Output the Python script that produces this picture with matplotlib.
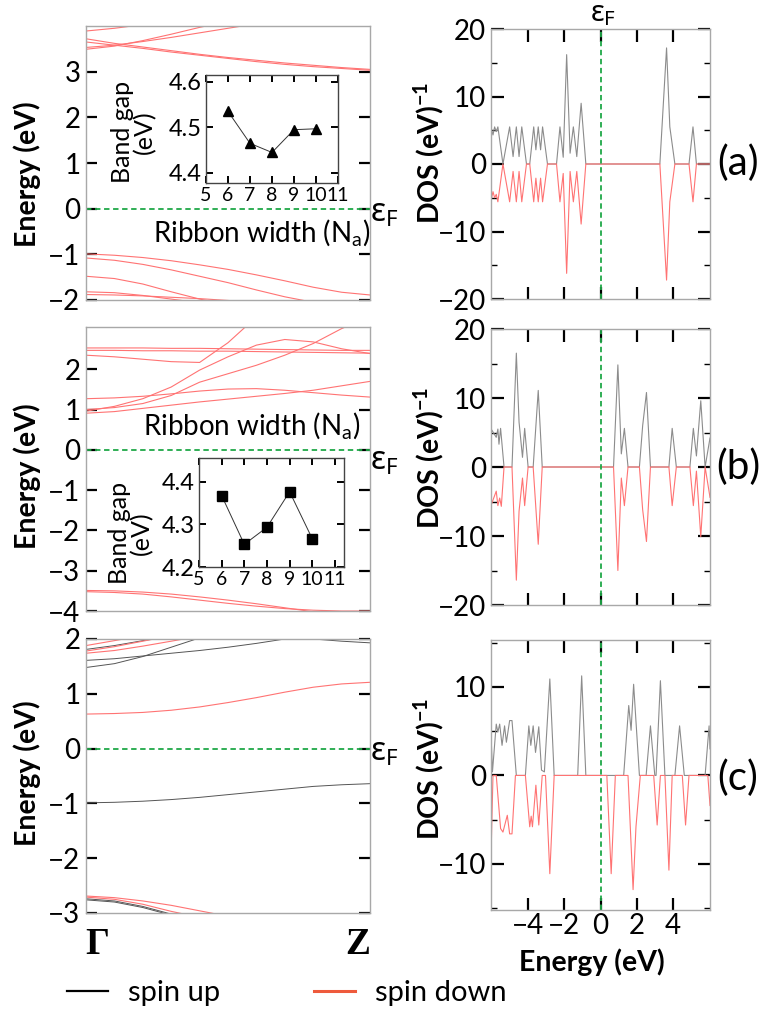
import matplotlib
matplotlib.use('Agg')
import matplotlib.pyplot as plt
from matplotlib.lines import Line2D

plt.rcParams['font.family'] = ['Lato', 'DejaVu Sans']
plt.rcParams['mathtext.fontset'] = 'dejavusans'

W, H = 768, 1011

# k path Gamma -> Z, sampled points
K_PTS = [0.0, 0.1, 0.2, 0.3, 0.4, 0.5, 0.6, 0.7, 0.8, 0.9, 1.0]

# (a) bands, spin degenerate (drawn red)
BANDS_A = [
    [3.72, 3.62, 3.54, 3.46, 3.38, 3.31, 3.25, 3.19, 3.14, 3.09, 3.05],
    [3.65, 3.58, 3.51, 3.43, 3.36, 3.29, 3.22, 3.16, 3.11, 3.07, 3.03],
    [3.53, 3.58, 3.66, 3.75, 3.85, 3.95, 4.05],
    [3.49, 3.56, 3.68, 3.82, 3.97, 4.10],
    [3.89, 3.95, 4.03, 4.10],
    [-0.99, -1.02, -1.07, -1.14, -1.23, -1.33, -1.45, -1.58, -1.72, -1.83, -1.89],
    [-1.08, -1.13, -1.22, -1.34, -1.48, -1.62, -1.78, -1.93, -2.05],
    [-1.48, -1.53, -1.65, -1.82, -1.98, -2.10],
    [-1.82, -1.84, -1.90, -1.98, -2.06],
    [-1.88, -1.89, -1.91, -1.94, -1.97, -2.01, -2.05],
]

# (b) bands
BANDS_B = [
    [2.53, 2.53, 2.53, 2.52, 2.52, 2.51, 2.50, 2.49, 2.48, 2.47, 2.47],
    [2.47, 2.47, 2.46, 2.46, 2.45, 2.45, 2.44, 2.43, 2.42, 2.41, 2.40],
    [2.35, 2.31, 2.25, 2.19, 2.17, 2.66, 3.30],
    [0.96, 1.08, 1.27, 1.56, 1.98, 2.31, 2.60, 2.74, 2.68, 2.51, 2.39],
    [1.00, 1.05, 1.15, 1.35, 1.68, 1.89, 2.10, 2.35, 2.64, 3.01, 3.30],
    [0.91, 0.95, 1.03, 1.11, 1.19, 1.26, 1.33, 1.40, 1.48, 1.59, 1.70],
    [1.27, 1.29, 1.33, 1.39, 1.46, 1.51, 1.52, 1.48, 1.42, 1.36, 1.31],
    [-3.49, -3.50, -3.53, -3.58, -3.65, -3.73, -3.82, -3.92, -4.02],
    [-3.52, -3.54, -3.58, -3.65, -3.73, -3.81, -3.88, -3.94, -3.98, -4.00, -4.00],
]

# (c) bands, spin polarised
BANDS_C_UP = [
    [-0.99, -0.98, -0.96, -0.93, -0.89, -0.84, -0.79, -0.74, -0.69, -0.66, -0.64],
    [1.48, 1.55, 1.68, 1.85, 2.02],
    [1.61, 1.64, 1.69, 1.74, 1.79, 1.85, 1.92, 2.00, 2.05],
    [1.81, 1.88, 1.97, 2.05],
    [2.40, 2.35, 2.30, 2.25, 2.20, 2.15, 2.10, 2.05, 2.00, 1.96, 1.93],
    [-2.74, -2.78, -2.88, -3.02],
    [-2.76, -2.80, -2.90, -3.04],
]
BANDS_C_DOWN = [
    [0.63, 0.64, 0.66, 0.70, 0.76, 0.84, 0.93, 1.03, 1.12, 1.18, 1.21],
    [1.88, 1.97, 2.06],
    [1.78, 1.86, 1.96, 2.06],
    [1.74, 1.79, 1.87, 1.96, 2.05],
    [-2.69, -2.72, -2.78, -2.86, -2.96, -3.06],
    [-2.71, -2.75, -2.84, -2.97, -3.08],
]

# insets: band gap vs ribbon width
WIDTH_N = [6, 7, 8, 9, 10]
GAP_A = [4.535, 4.465, 4.445, 4.495, 4.497]
GAP_B = [4.367, 4.253, 4.293, 4.376, 4.266]

# DOS curves (energy, states/eV), vertices
E_UP_A = [-6.04, -5.94, -5.85, -5.76, -5.67, -5.39, -5.02, -4.83, -4.65, -4.50, -4.35, -4.09,
          -3.91, -3.69, -3.57, -3.44, -3.31, -3.20, -2.93, -2.43, -2.24, -2.06, -1.87, -1.68,
          -1.50, -1.31, -1.07, -0.81, 3.28, 3.65, 3.83, 4.11, 4.89, 5.11, 5.30, 6.05]
D_UP_A = [5.3, 4.3, 5.5, 4.8, 5.5, 0.0, 5.5, 1.1, 5.5, 1.1, 5.5, 0.0,
          0.0, 5.5, 2.1, 5.5, 2.1, 5.5, 0.0, 0.0, 5.5, 1.0, 16.2, 1.6,
          5.5, 1.1, 9.0, 0.0, 0.0, 17.2, 5.5, 0.0, 0.0, 5.5, 0.0, 0.0]
E_DN_A = E_UP_A
D_DN_A = [-5.3, -4.1, -5.0, -4.5, -5.6, 0.0, -5.6, -1.1, -5.6, -1.1, -5.6, 0.0,
          0.0, -5.6, -2.1, -5.6, -2.1, -5.6, 0.0, 0.0, -5.6, -1.4, -16.2, -1.1,
          -5.6, -1.1, -8.9, 0.0, 0.0, -17.2, -5.6, 0.0, 0.0, -5.6, 0.0, 0.0]

E_UP_B = [-6.04, -5.76, -5.67, -5.61, -5.52, -5.33, -4.89, -4.65, -4.50, -4.31, -4.19, -4.00,
          -3.72, -3.44, -3.22, 0.72, 0.96, 1.15, 1.32, 1.52, 2.15, 2.33, 2.54, 2.76,
          3.78, 3.96, 4.19, 4.94, 5.13, 5.30, 5.54, 5.78, 6.05]
D_UP_B = [5.5, 4.3, 5.5, 3.3, 5.6, 0.0, 0.0, 16.5, 6.5, 1.4, 5.6, 0.0,
          0.0, 11.1, 0.0, 0.0, 14.8, 1.9, 5.6, 0.0, 0.0, 6.0, 10.8, 0.0,
          0.0, 5.6, 0.0, 0.0, 5.6, 1.6, 9.6, 0.0, 4.2]
E_DN_B = [-6.04, -5.76, -5.67, -5.57, -5.48, -5.33, -4.89, -4.65, -4.50, -4.31, -4.19, -4.00,
          -3.72, -3.44, -3.22, 0.72, 0.96, 1.15, 1.32, 1.52, 2.15, 2.33, 2.54, 2.76,
          3.78, 3.96, 4.19, 4.94, 5.13, 5.30, 5.54, 5.78, 6.05]
D_DN_B = [-5.5, -3.5, -5.6, -4.5, -5.7, 0.0, 0.0, -16.4, -6.4, -1.6, -5.6, 0.0,
          0.0, -11.2, 0.0, 0.0, -15.0, -1.6, -5.6, 0.0, 0.0, -6.2, -10.8, 0.0,
          0.0, -5.6, 0.0, 0.0, -5.6, -0.6, -10.1, 0.0, -4.4]

E_UP_C = [-6.05, -5.97, -5.76, -5.67, -5.57, -5.44, -5.30, -5.20, -5.02, -4.89, -4.65,
          -4.15, -3.96, -3.85, -3.72, -3.59, -3.41, -3.26, -3.10, -2.80, -2.56,
          -1.26, -1.04, -0.81, 1.28, 1.56, 1.69, 1.83, 2.15, 2.52, 2.76, 3.00,
          3.07, 3.31, 3.56, 4.11, 4.37, 4.63, 5.78, 6.00, 6.05]
D_UP_C = [4.7, 0.4, 5.8, 4.9, 5.8, 3.4, 5.6, 3.75, 6.2, 6.2, 0.0,
          0.0, 5.6, 3.4, 5.6, 2.6, 5.5, 0.6, 0.4, 10.9, 0.0,
          0.0, 11.25, 0.0, 0.0, 7.9, 5.1, 10.3, 0.0, 0.0, 5.6, 0.0,
          0.0, 10.7, 0.0, 0.0, 5.6, 0.0, 0.0, 5.6, 3.0]
E_DN_C = [-6.05, -5.94, -5.76, -5.52, -5.39, -5.15, -5.02, -4.89, -4.70,
          -4.15, -3.91, -3.83, -3.76, -3.57, -3.41, -3.22, -3.04, -2.80, -2.56,
          0.35, 0.59, 0.82, 1.52, 1.80, 1.96, 2.20, 2.94, 3.13, 3.31, 3.56, 3.78,
          3.96, 4.52, 4.70, 4.89, 5.93, 6.05]
D_DN_C = [-9.2, 0.0, 0.0, -6.0, -6.4, -4.5, -6.6, -6.6, 0.0,
          0.0, -5.8, -4.6, -5.8, -1.1, -5.6, 0.0, 0.0, -11.1, 0.0,
          0.0, -11.1, 0.0, 0.0, -12.9, -5.8, 0.0, 0.0, -5.6, 0.0, 0.0, -10.7,
          0.0, 0.0, -5.6, 0.0, 0.0, -3.4]

RED = '#ff7373'
GREY = '#555555'
FERMI = '#1fa848'
SPINE = '#a8a8a8'
TICK_FS = 20
LABEL_FS = 20.5


def fig_box(x0, y0, x1, y1):
    # pixel box (top-left origin) -> figure fraction rect
    return [x0 / W, 1 - y1 / H, (x1 - x0) / W, (y1 - y0) / H]


def fig_xy(x, y):
    return x / W, 1 - y / H


def style_frame(ax):
    for sp in ax.spines.values():
        sp.set_color(SPINE)
        sp.set_linewidth(1.0)


def plot_bands(ax, bands, color, lw=0.8):
    for b in bands:
        ax.plot(K_PTS[:len(b)], b, color=color, lw=lw, solid_joinstyle='round')


def band_panel(rect, ylim, yticks, down, up=None):
    ax = fig.add_axes(rect)
    if up:
        plot_bands(ax, up, GREY, lw=0.7)
    plot_bands(ax, down, RED)
    ax.axhline(0, color=FERMI, lw=1.3, ls=(0, (3, 2)))
    ax.set_xlim(0, 1)
    ax.set_ylim(*ylim)
    ax.set_xticks([])
    ax.set_yticks(yticks)
    ax.tick_params(axis='y', direction='in', length=8, width=1.6, color='black',
                   right=True, labelsize=TICK_FS, pad=4)
    style_frame(ax)
    return ax


def dos_panel(rect, ylim, major, minor, e_up, d_up, e_dn, d_dn, show_x=False):
    ax = fig.add_axes(rect)
    ax.plot(e_up, d_up, color='#8c8c8c', lw=0.8)
    ax.plot(e_dn, d_dn, color=RED, lw=0.8)
    ax.axvline(0, color=FERMI, lw=1.3, ls=(0, (3, 2)))
    ax.set_xlim(-6.05, 6.05)
    ax.set_ylim(*ylim)
    ax.set_xticks([-4, -2, 0, 2, 4])
    ax.set_yticks(major)
    ax.set_yticks(minor, minor=True)
    ax.tick_params(axis='both', which='major', direction='in', length=9, width=1.6,
                   color='black', top=True, right=True, labelsize=TICK_FS)
    ax.tick_params(axis='y', which='minor', direction='in', length=4, width=1.0,
                   color='black', right=True)
    ax.tick_params(axis='x', labelbottom=show_x, pad=2)
    style_frame(ax)
    return ax


def inset(rect, gaps, marker, ylim, yticks, xmax):
    ax = fig.add_axes(rect)
    ax.plot(WIDTH_N, gaps, color='#333333', lw=0.7, marker=marker, ms=7,
            mfc='black', mec='black')
    ax.set_xlim(5, xmax)
    ax.set_ylim(*ylim)
    ax.set_xticks([5, 6, 7, 8, 9, 10, 11])
    ax.set_yticks(yticks)
    ax.tick_params(axis='both', direction='in', length=5, width=1.4, color='black',
                   top=True, right=True, labelsize=17, pad=3)
    ax.tick_params(axis='x', labelsize=14)
    for sp in ax.spines.values():
        sp.set_color('#444444')
        sp.set_linewidth(1.0)
    return ax


fig = plt.figure(figsize=(W / 100, H / 100), dpi=100)

# band structures
band_panel(fig_box(86, 26, 370, 300), (-2, 4), [-2, -1, 0, 1, 2, 3], BANDS_A)
band_panel(fig_box(86, 327, 370, 611), (-4, 3.05), [-4, -3, -2, -1, 0, 1, 2], BANDS_B)
band_panel(fig_box(86, 639, 370, 913), (-3, 2), [-3, -2, -1, 0, 1, 2], BANDS_C_DOWN, BANDS_C_UP)

# insets
inset(fig_box(206, 75, 338, 183), GAP_A, '^', (4.378, 4.615), [4.4, 4.5, 4.6], 11)
inset(fig_box(199, 458, 344, 567), GAP_B, 's', (4.2, 4.455), [4.2, 4.3, 4.4], 11.4)

# DOS panels
dos_panel(fig_box(491, 29, 710, 299), (-20, 20), [-20, -10, 0, 10, 20], [-15, -5, 5, 15],
          E_UP_A, D_UP_A, E_DN_A, D_DN_A)
dos_panel(fig_box(491, 329, 710, 605), (-20, 20), [-20, -10, 0, 10, 20], [-15, -5, 5, 15],
          E_UP_B, D_UP_B, E_DN_B, D_DN_B)
dos_panel(fig_box(491, 640, 710, 910), (-15.2, 15.3), [-10, 0, 10], [-15, -5, 5, 15],
          E_UP_C, D_UP_C, E_DN_C, D_DN_C, show_x=True)

# labels
for yc in (174, 476, 773):
    fig.text(*fig_xy(27, yc), 'Energy (eV)', rotation=90, ha='center', va='center',
             fontsize=LABEL_FS, fontweight='bold')
for yc in (153, 458, 769):
    fig.text(*fig_xy(429, yc), r'DOS (eV)$^{\mathregular{-1}}$', rotation=90,
             ha='center', va='center', fontsize=LABEL_FS, fontweight='bold')
fig.text(*fig_xy(592, 962), 'Energy (eV)', ha='center', va='center', fontsize=LABEL_FS,
         fontweight='bold')

for lab, yc in (('(a)', 163), ('(b)', 467), ('(c)', 778)):
    fig.text(*fig_xy(738, yc), lab, ha='center', va='center', fontsize=29)

ef = r'ε$_{\mathregular{F}}$'
ef_font = ['Noto Sans', 'DejaVu Sans']
for yc in (213, 461, 752):
    fig.text(*fig_xy(370, yc), ef, ha='left', va='center', fontsize=23, family=ef_font)
fig.text(*fig_xy(603, 14), ef, ha='center', va='center', fontsize=21, family=ef_font)

fig.text(*fig_xy(97, 945), 'Γ', ha='center', va='center', fontsize=27,
         family='Liberation Serif', fontweight='bold')
fig.text(*fig_xy(358, 945), 'Z', ha='center', va='center', fontsize=27,
         family='Liberation Serif', fontweight='bold')

fig.text(*fig_xy(262, 233), r'Ribbon width (N$_{\mathregular{a}}$)', ha='center',
         va='center', fontsize=20)
fig.text(*fig_xy(252, 426), r'Ribbon width (N$_{\mathregular{a}}$)', ha='center',
         va='center', fontsize=20)
fig.text(*fig_xy(134, 132), 'Band gap\n(eV)', rotation=90, ha='center', va='center',
         fontsize=18, multialignment='center', linespacing=0.95)
fig.text(*fig_xy(131, 533), 'Band gap\n(eV)', rotation=90, ha='center', va='center',
         fontsize=18, multialignment='center', linespacing=0.95)

# legend
handles = [Line2D([], [], color='black', lw=1.6), Line2D([], [], color='#ee5a3c', lw=2.2)]
fig.legend(handles, ['spin up', 'spin down'], loc='center left',
           bbox_to_anchor=fig_xy(67, 993), ncol=2, frameon=False, fontsize=21,
           borderpad=0, borderaxespad=0, handlelength=1.4, handletextpad=0.7,
           columnspacing=3.2)

fig.savefig('out.png', dpi=100)
